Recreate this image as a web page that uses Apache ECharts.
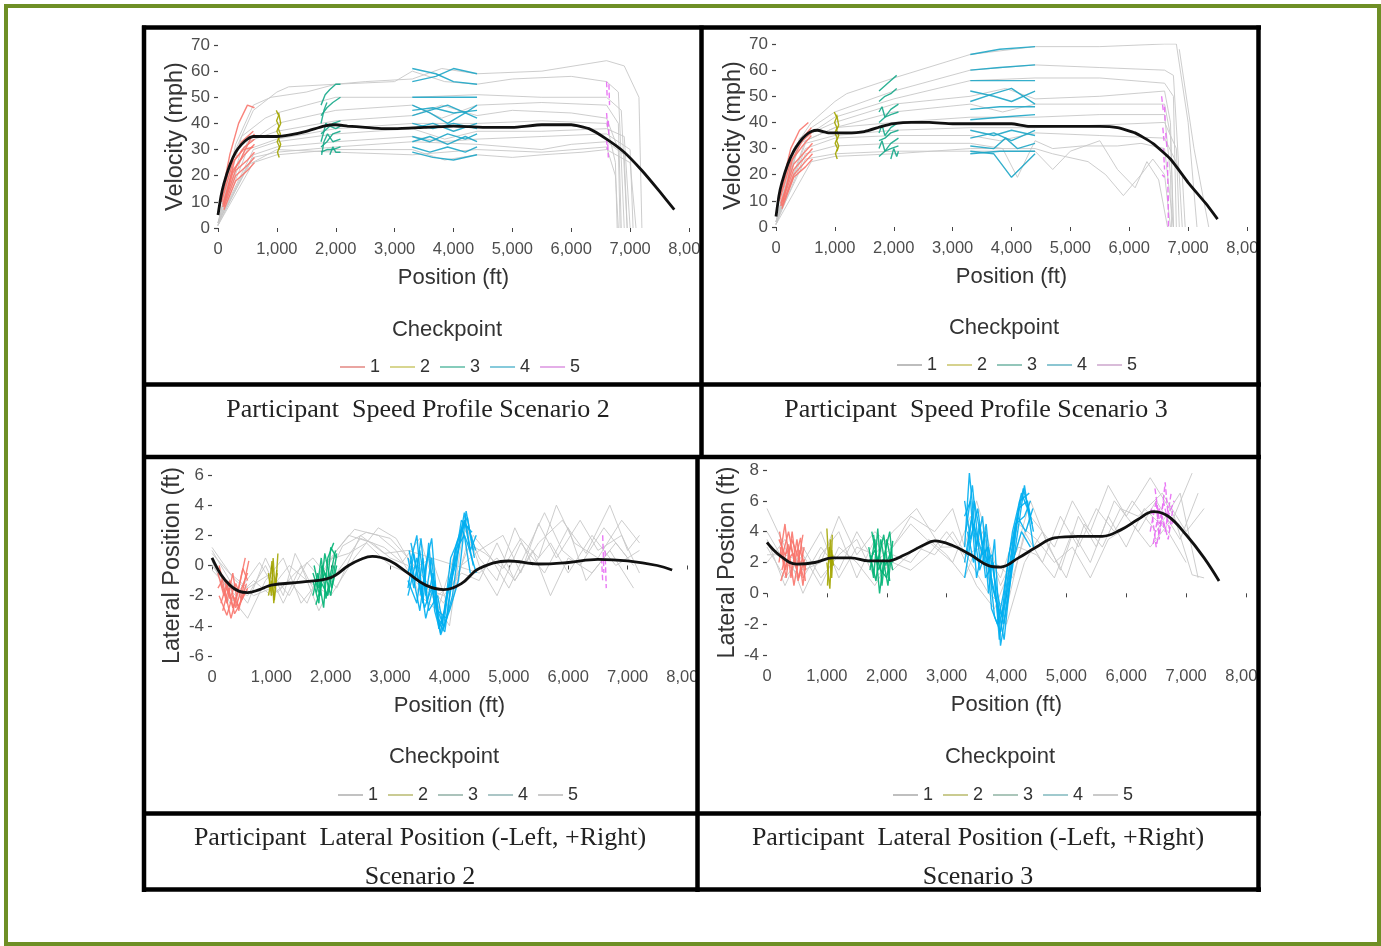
<!DOCTYPE html>
<html>
<head>
<meta charset="utf-8">
<script src="https://cdn.jsdelivr.net/npm/echarts@6/dist/echarts.min.js"></script>
<style>
html,body{margin:0;padding:0;background:#fff;}
#chart{width:1381px;height:946px;}
</style>
</head>
<body>
<div id="chart"></div>
<script>
// ---------------- DATA ----------------
const checkpointNames = ['1','2','3','4','5'];
const speedCpColors = ['#F8766D','#A3A500','#16a889','#1ea6c6','#E76BF3'];
const lateralCpColors = ['#F8766D','#A3A500','#00B374','#00AEF0','#E76BF3'];

// Speed, Scenario 2
const speedS2Mean = [[0,5],[50,12],[100,17],[200,24],[300,29],[400,32],[500,34],[600,35],[700,35],[1000,35],[1200,35.5],[1500,37],[1800,39],[2000,39.5],[2200,39],[2500,38.5],[2800,38],[3000,38],[3500,38.5],[4000,39],[4500,38.5],[5000,38.5],[5500,39.5],[6000,39.5],[6300,38],[6600,34],[6900,29],[7200,22],[7500,14],[7750,7]];
const speedS2Grey = [
 [[0,2],[300,30],[600,45],[1000,52],[1200,54],[2000,55],[2500,56],[3300,57],[3800,61],[4400,59],[5500,60],[6600,64],[6900,62],[7150,50],[7200,0]],
 [[0,1],[300,32],[600,47],[900,50],[1500,52],[2000,55],[3000,56],[3300,60],[3850,56],[4400,55],[5000,57],[6000,58],[6600,56],[6800,52],[6900,0]],
 [[0,2],[400,35],[800,42],[1000,44],[1500,47],[2000,50],[3300,50],[4400,51],[5500,50],[6600,50],[6850,45],[6950,0]],
 [[0,1],[400,30],[800,37],[1000,40],[2000,45],[3300,47],[3800,42],[4400,47],[5500,48],[6600,47],[6800,40],[6850,0]],
 [[0,2],[500,33],[1000,37],[2000,41],[3300,43],[3800,47],[4400,43],[5000,45],[6000,44],[6600,42],[6800,30],[6830,0]],
 [[0,1],[500,30],[1000,34],[2000,38],[3300,40],[4400,40],[5500,41],[6600,40],[6750,25],[6780,0]],
 [[0,2],[600,30],[1000,33],[2000,36],[3300,38],[3850,34],[4400,37],[5500,37],[6600,38],[6900,35],[7000,0]],
 [[0,1],[600,28],[1000,31],[2000,33],[3300,35],[3800,33],[4400,34],[5500,35],[6600,36],[7000,30],[7050,0]],
 [[0,2],[600,27],[1000,29],[2000,31],[3300,33],[4400,32],[5500,30],[6000,32],[6600,33],[6900,28],[6950,0]],
 [[0,1],[600,25],[1000,28],[2000,30],[3300,30],[3850,26],[4400,28],[5000,27],[5500,28],[6200,29],[6600,30],[7000,25],[7100,0]],
 [[0,2],[500,24],[1000,30],[2000,29],[3300,28],[4400,30],[5500,29],[6600,31],[6750,20],[6800,0]]
];
const speedS2Cp1 = [
 [[60,12],[200,28],[350,40],[500,47],[620,46]],
 [[60,10],[200,24],[400,33],[600,37]],
 [[60,10],[250,25],[450,31],[620,34]],
 [[80,9],[250,22],[450,28],[620,32]],
 [[80,8],[300,22],[500,26],[620,29]],
 [[100,8],[300,20],[500,24],[620,27]],
 [[100,7],[300,18],[500,22],[620,25]],
 [[100,9],[250,21],[400,27],[550,34],[620,36]],
 [[120,11],[280,26],[430,30],[600,31]]
];
const speedS2Cp2 = [
 [[990,45],[1030,43],[995,41],[1035,39],[1000,37],[1040,35],[1005,33],[1045,31],[1010,29],[1040,27]],
 [[1030,44],[1065,40],[1025,38],[1060,36],[1030,34],[1065,32],[1035,30]]
];
const speedS2Cp3 = [
 [[1750,47],[1820,51],[1900,53],[2000,55],[2080,55]],
 [[1750,43],[1850,46],[1950,48],[2080,50]],
 [[1750,40],[1800,45],[1850,48]],
 [[1750,36],[1850,38],[1950,40],[2080,41]],
 [[1750,33],[1800,37],[1830,40],[1900,39],[2000,38],[2080,39]],
 [[1750,31],[1850,33],[1950,36],[2080,37]],
 [[1760,28],[1800,33],[1860,36],[1950,33],[2080,34]],
 [[1750,29],[1850,30],[1950,30],[2080,31]],
 [[1900,28],[1950,31],[2000,29],[2080,29]]
];
const speedS2Cp4 = [
 [[3300,61],[3700,59],[4000,56],[4400,55]],
 [[3300,56],[3700,58],[4000,61],[4400,59]],
 [[3300,50],[3800,50],[4400,50]],
 [[3300,47],[3600,44],[3900,40],[4200,44],[4400,47]],
 [[3300,43],[3600,45],[3900,47],[4200,44],[4400,42]],
 [[3300,40],[3650,38],[4000,40],[4400,38]],
 [[3300,38],[3650,40],[4000,37],[4400,40]],
 [[3300,35],[3600,33],[3900,36],[4200,34],[4400,36]],
 [[3300,33],[3600,35],[3900,32],[4200,35],[4400,33]],
 [[3300,31],[3600,29],[3900,31],[4200,29],[4400,31]],
 [[3300,29],[3650,27],[4000,26],[4400,28]],
 [[3300,45],[3650,46],[4000,44],[4400,45]]
];
const speedS2Cp5 = [
 [[6600,56],[6610,50]],[[6640,55],[6650,47]],[[6600,44],[6620,38]],
 [[6630,41],[6640,35]],[[6600,34],[6610,30]],[[6620,32],[6630,27]]
];

// Speed, Scenario 3
const speedS3Mean = [[0,4],[50,12],[100,17],[200,24],[300,29],[400,32.5],[500,35],[600,36.5],[700,37],[900,36],[1200,36],[1500,36.5],[1800,38.5],[2000,39.5],[2300,40],[2600,40],[3000,39.5],[3500,39.5],[4000,39.5],[4300,38.5],[5000,38.5],[5500,38.5],[5800,38],[6100,36],[6400,32],[6700,26],[7000,17],[7300,9],[7500,3]];
const speedS3Grey = [
 [[0,2],[300,30],[600,40],[1000,48],[1200,51],[2000,57],[3300,66],[4400,69],[5500,69],[6600,70],[6800,70],[7000,40],[7150,0]],
 [[0,2],[300,28],[600,38],[1000,44],[2000,52],[3300,60],[4400,62],[5500,61],[6600,60],[6750,58],[6900,0]],
 [[0,1],[400,33],[1000,42],[2000,49],[3300,56],[4400,57],[5500,57],[6600,55],[6750,50],[6800,0]],
 [[0,2],[400,34],[1000,40],[2000,47],[3300,50],[3900,53],[4400,49],[5500,50],[6600,52],[6700,40],[6750,0]],
 [[0,1],[400,32],[1000,38],[2000,44],[3300,47],[3850,44],[4400,47],[5500,47],[6600,47],[6700,35],[6750,0]],
 [[0,2],[500,33],[1000,38],[2000,40],[3300,42],[4400,42],[5500,43],[6600,43],[6700,20],[6720,0]],
 [[0,1],[500,32],[1000,35],[2000,37],[3300,38],[4400,38],[5500,39],[6600,40],[6800,30],[6850,0]],
 [[0,2],[500,30],[1000,34],[2000,35],[3300,35],[3800,33],[4400,36],[5500,35],[6600,34],[6900,20],[6950,0]],
 [[0,1],[500,28],[1000,31],[2000,32],[3300,32],[3850,30],[4100,19],[4400,33],[4700,30],[5200,31],[5800,31],[6200,32],[6600,30],[6750,0]],
 [[0,2],[500,26],[1000,28],[2000,29],[3300,29],[4400,29],[4700,22],[5000,29],[5500,33],[5800,22],[6100,15],[6300,25],[6500,18],[6650,0]],
 [[0,1],[600,25],[1000,27],[2000,28],[3300,30],[4400,30],[4700,28],[5300,25],[5600,20],[5900,12],[6200,20],[6400,26],[6600,20],[6700,0]],
 [[6850,68],[7100,30],[7350,0]]
];
const speedS3Cp1 = [
 [[60,12],[250,30],[400,37],[550,40]],
 [[60,11],[250,27],[450,34],[600,38]],
 [[60,10],[250,25],[450,31],[600,35]],
 [[80,9],[300,24],[500,29],[620,32]],
 [[80,8],[300,22],[500,27],[620,30]],
 [[100,8],[300,20],[500,25],[620,28]],
 [[100,7],[300,19],[500,23],[620,26]],
 [[120,10],[280,26],[450,33],[600,36]]
];
const speedS3Cp2 = [
 [[990,44],[1030,42],[995,40],[1035,38],[1000,36],[1040,34],[1005,32],[1045,30],[1010,28],[1040,26]],
 [[1030,43],[1065,39],[1030,37],[1065,35],[1030,33],[1065,31],[1035,29]]
];
const speedS3Cp3 = [
 [[1750,52],[1850,54],[1950,56],[2050,58]],
 [[1750,48],[1850,50],[1950,51],[2050,53]],
 [[1750,44],[1800,46],[1850,42],[1950,45],[2080,47]],
 [[1750,40],[1850,42],[1950,43],[2080,44]],
 [[1750,36],[1800,39],[1850,35],[1950,38],[2080,40]],
 [[1750,33],[1850,34],[1950,36],[2080,37]],
 [[1750,30],[1800,33],[1850,29],[1950,32],[2080,34]],
 [[1750,27],[1850,29],[1950,30],[2080,31]],
 [[1950,26],[2000,30],[2050,27],[2080,29]]
];
const speedS3Cp4 = [
 [[3300,66],[3800,68],[4400,69]],
 [[3300,60],[3800,61],[4400,62]],
 [[3300,56],[4400,56]],
 [[3300,52],[3700,50],[4000,48],[4400,52]],
 [[3300,48],[3700,51],[4000,53],[4400,47]],
 [[3300,45],[3800,46],[4400,46]],
 [[3300,41],[3800,42],[4400,43]],
 [[3300,37],[3700,35],[4000,37],[4400,35]],
 [[3300,34],[3700,36],[4000,33],[4400,37]],
 [[3300,31],[3700,30],[3900,34],[4100,30],[4400,32]],
 [[3300,29],[3700,28],[4000,19],[4400,28]],
 [[3300,28],[3800,29],[4400,29]]
];
const speedS3Cp5 = [
 [[6550,50],[6580,44]],[[6600,46],[6610,40]],[[6570,38],[6590,33]],[[6620,36],[6640,30]],
 [[6580,30],[6600,22]],[[6560,20],[6600,19]],[[6650,25],[6660,10]],[[6660,12],[6665,0]]
];

// Lateral position, Scenario 2
const latS2Mean = [[0,0.5],[150,-0.6],[300,-1.3],[450,-1.7],[600,-1.8],[800,-1.6],[1000,-1.3],[1500,-1.1],[2000,-0.8],[2300,0],[2500,0.4],[2700,0.6],[3000,0.3],[3300,-0.5],[3600,-1.3],[3900,-1.6],[4200,-1.2],[4500,-0.2],[5000,0.3],[5500,0.1],[6000,0.2],[6500,0.4],[7000,0.3],[7500,0],[7750,-0.3]];
const latS2Grey = [
 [[0,1],[300,-1],[600,-2.5],[900,0.5],[1200,-2],[1400,0.8],[1700,-1.5],[2000,0.5],[2300,2],[2700,1.5],[3000,0.5],[3300,0],[3500,-2],[3800,-3],[4100,1],[4300,2.5],[4500,0.5],[4800,-1],[5100,2.5],[5400,0],[5700,1.5],[6000,-0.5],[6400,2],[6800,0],[7200,1]],
 [[0,0.5],[300,-2],[600,-3.5],[900,-1],[1200,0.5],[1500,-2.5],[1800,-1],[2100,1],[2400,2.4],[2800,2],[3100,1],[3400,-1],[3700,-2],[4000,-4],[4250,3],[4500,0],[4800,-2],[5200,1.5],[5600,-0.5],[6000,2.5],[6300,-1],[6700,1],[7100,-1.5]],
 [[0,0],[300,-1.5],[600,-2],[900,0],[1200,-2.5],[1500,0],[1800,-3],[2100,-0.5],[2500,1.8],[2900,1.2],[3200,0.2],[3500,1.8],[3800,-2],[4100,-1],[4400,2],[4700,0.5],[5000,-1.5],[5300,1],[5600,3.5],[5900,1],[6200,0],[6600,2.5],[7000,0.5]],
 [[0,1.2],[300,-0.5],[600,-1.5],[1000,-0.5],[1300,-2],[1600,0.2],[1900,-1.2],[2200,1.3],[2600,2.2],[3000,1.8],[3300,0.5],[3600,-1],[3900,-2.5],[4200,0],[4500,1],[4900,2],[5200,-0.5],[5500,2.8],[5800,0.5],[6200,3],[6500,1],[6900,2],[7200,-0.5]],
 [[0,0.3],[300,-2.5],[700,-1],[1000,-2],[1300,-1],[1600,-2.5],[1900,0.3],[2300,0.8],[2600,1.5],[3000,0],[3300,-0.5],[3600,-1.5],[3900,-2],[4200,-0.5],[4500,-1],[4800,1.5],[5100,-1],[5400,1],[5700,-2],[6000,0.5],[6400,-0.5],[6800,1.5],[7100,0]],
 [[0,0.8],[400,-1],[700,-2],[1000,-1.5],[1300,0],[1600,-1],[2000,-2],[2400,0.5],[2800,2.5],[3100,1.8],[3400,-0.2],[3700,0.5],[4000,-3],[4300,1.5],[4600,0.8],[4900,-0.2],[5200,1.8],[5500,0.5],[5800,4],[6100,1.5],[6500,0.5],[6900,3],[7200,1.5]],
 [[0,-0.3],[400,-2],[800,0.2],[1100,-1.8],[1400,-0.5],[1700,0.5],[2100,-1.5],[2500,2],[2900,0.8],[3300,1],[4500,-0.5],[4800,0.5],[5100,-1],[5500,1.5],[5900,3],[6300,0.8],[6700,4],[7000,1],[7200,2]]
];
const latS2Cp1 = [
 [[100,-0.5],[200,-2],[300,-1],[400,-2.8],[500,-1.5],[600,-0.5]],
 [[150,-1],[250,-2.5],[350,-0.5],[450,-3],[550,-1],[620,0.3]],
 [[120,-2],[250,-3.3],[350,-2],[450,-2.7],[550,-1.8]],
 [[100,-1.5],[200,-0.8],[300,-2.2],[400,-1.2],[500,-2.3],[600,-1.5]],
 [[150,-2.5],[250,-1.2],[350,-2.8],[450,-1.5],[560,0.5]],
 [[120,0],[220,-1.8],[320,-3.5],[420,-2],[520,-0.2],[600,-1]],
 [[180,-3],[280,-1.5],[380,-3.2],[480,-2.5],[580,-1.2]]
];
const latS2Cp2 = [
 [[950,-0.5],[1000,-2],[1030,0.5],[1060,-1.5],[1100,-0.5]],
 [[960,-1.5],[1010,0.3],[1040,-2.5],[1080,-1],[1110,0.8]],
 [[950,-2],[1000,-1],[1050,-2.3],[1090,-0.3]]
];
const latS2Cp3 = [
 [[1700,-1],[1800,-2.5],[1850,0],[1950,-1],[2000,1.2],[2100,0.5]],
 [[1700,-2],[1780,-0.5],[1880,-2.8],[1950,0.5],[2050,1.5]],
 [[1720,0],[1800,-1.5],[1900,-0.5],[2000,-2],[2100,0.8]],
 [[1750,-2.6],[1850,-1.2],[1950,-2],[2050,0]],
 [[1760,-1.8],[1840,0.5],[1920,-2.2],[2000,-0.5],[2080,1]],
 [[1700,-0.5],[1820,-2],[1900,0.8],[2020,-1.5],[2100,0]]
];
const latS2Cp4 = [
 [[3300,-0.5],[3450,2],[3550,-2.5],[3650,1.5],[3750,-3],[3850,-4.5],[3950,-2],[4100,0],[4250,3.5],[4350,1],[4450,2]],
 [[3300,0.5],[3400,-1.5],[3500,1],[3600,-2],[3700,0.5],[3800,-3.5],[3900,-4],[4000,-1],[4150,1],[4250,3],[4400,0]],
 [[3300,-1],[3450,-2.5],[3550,0.5],[3650,-3],[3800,-2],[3900,-4.2],[4050,-2],[4200,2.5],[4300,1.5],[4450,-0.5]],
 [[3350,0],[3500,-3],[3600,0],[3700,1.8],[3800,-3],[3950,-3.5],[4100,1],[4250,2],[4350,-0.5]],
 [[3300,-2],[3450,0.5],[3600,-3.5],[3750,-1],[3850,-4.6],[4000,-3],[4150,-1],[4280,3.6],[4400,1]],
 [[3320,1],[3420,-1],[3520,1.8],[3620,-2.5],[3720,-0.5],[3820,-4.2],[3920,-3],[4020,0.5],[4180,2],[4300,3.2],[4420,0.5]],
 [[3300,-1.5],[3400,0.8],[3520,-2],[3640,0.8],[3760,-2.5],[3880,-3.8],[3980,-1.5],[4120,1.5],[4230,2.8],[4380,2.2]],
 [[3350,1.5],[3480,-1],[3580,-2.8],[3700,-1.5],[3820,-3.8],[3920,-4.4],[4060,-0.5],[4200,3],[4320,2.5],[4440,1]]
];
const latS2Cp5 = [
 [[6580,2],[6600,-0.5]],[[6620,1],[6640,-1.5]],[[6560,0.5],[6580,-1]]
];

// Lateral position, Scenario 3
const latS3Mean = [[0,3.3],[200,2.5],[500,1.9],[800,2.0],[1100,2.3],[1400,2.3],[1700,2.1],[2000,2.1],[2300,2.5],[2600,3.1],[2800,3.4],[3100,3.1],[3400,2.5],[3700,1.8],[3900,1.7],[4200,2.3],[4500,3.0],[4800,3.6],[5200,3.7],[5600,3.7],[5900,4.1],[6200,4.8],[6450,5.3],[6700,5.0],[7000,3.8],[7300,2.3],[7550,0.8]];
const latS3Grey = [
 [[0,4],[300,2],[600,1],[900,3],[1200,1.5],[1500,4],[1800,2],[2100,3],[2400,5],[2800,4],[3100,5.5],[3300,3],[3500,6],[3800,2],[4100,1],[4400,5],[4800,3],[5100,6],[5400,4],[5700,7],[6000,5],[6400,7.5],[6800,5],[7100,7.8]],
 [[0,5.5],[300,3],[600,0],[900,2.5],[1200,4],[1500,1],[1800,3.5],[2100,1.5],[2500,3],[2800,2.5],[3100,4],[3400,2],[3700,0],[4000,-1],[4300,4],[4600,2],[4900,5],[5200,3],[5500,5.5],[5800,4],[6100,6],[6500,4],[6900,6.5],[7200,1]],
 [[0,3],[300,1],[600,2.5],[900,0.5],[1200,3],[1500,2],[1800,0.5],[2100,2.5],[2400,2],[2700,3.5],[3000,2.5],[3300,1],[3600,4],[3900,0.5],[4200,3],[4500,2.5],[4800,1],[5100,4],[5400,2],[5700,5],[6000,3],[6300,5.5],[6700,4],[7000,2]],
 [[0,2],[300,3.5],[600,1.5],[900,2],[1200,5],[1500,2.5],[1800,4],[2100,3],[2400,4.5],[2800,3],[3100,2],[3400,5],[3700,1],[4000,-2],[4300,2],[4600,4],[4900,1.5],[5200,5],[5500,3],[5800,6],[6200,4],[6500,6],[6900,3.5],[7200,6.5]],
 [[0,3.5],[300,0.5],[600,3],[900,1],[1200,2.5],[1500,3.5],[1800,1],[2100,2],[2400,1.5],[2700,2.5],[3000,4],[3300,2.5],[3600,3],[3900,1],[4200,4.5],[4500,3.5],[4800,2],[5100,3],[5400,1],[5700,3.5],[6100,4.5],[6400,3],[6800,5],[7100,1.2],[7300,1]],
 [[0,2.5],[300,2.5],[600,2],[900,4],[1200,1],[1500,3],[1800,2.5],[2100,4],[2500,5.5],[2900,3],[3200,3],[3500,0.5],[3800,-1],[4100,2],[4400,6],[4700,3],[5000,1],[5300,4.5],[5600,3],[5900,5.5],[6200,5],[6600,6.5],[7000,4],[7300,5.5]]
];
const latS3Cp1 = [
 [[200,2],[300,4.5],[400,1],[500,3.5],[600,0.5],[650,2]],
 [[220,3],[320,1],[420,4],[520,0.8],[620,3]],
 [[250,1.5],[350,3.2],[450,0.5],[550,2.8],[650,1.5]],
 [[200,3.5],[300,2.5],[400,3],[500,1.5],[600,3.8]],
 [[230,0.8],[330,2],[430,2.6],[530,1],[630,2.2]],
 [[210,4],[310,1.5],[410,3.5],[510,2.5],[610,1]],
 [[260,2.5],[360,4],[460,2],[560,3.6],[640,0.8]]
];
const latS3Cp2 = [
 [[1000,4.2],[1030,2],[1060,3.5],[1080,1],[1100,2.5]],
 [[1010,0.5],[1040,3],[1070,1.5],[1090,3.8]],
 [[1000,2],[1050,0.3],[1080,2.8],[1110,1.8]]
];
const latS3Cp3 = [
 [[1700,3],[1780,1],[1850,4.2],[1920,0.5],[2000,3.5],[2100,1.5]],
 [[1720,1.5],[1800,3.5],[1880,0],[1960,2.5],[2050,4],[2100,2]],
 [[1700,2],[1800,2.8],[1900,1.5],[2000,1],[2080,3]],
 [[1750,4],[1850,2],[1950,3.8],[2050,0.8]],
 [[1720,2.5],[1820,0.8],[1900,3.5],[1980,1.8],[2060,2.6]],
 [[1780,3.8],[1860,1.5],[1940,2.2],[2020,0.5],[2100,3.4]]
];
const latS3Cp4 = [
 [[3300,3],[3380,7.8],[3500,3],[3600,5],[3700,0],[3800,3.5],[3900,-3.4],[4000,-1],[4150,3],[4300,7],[4450,3]],
 [[3300,5],[3400,6],[3500,1],[3650,4],[3750,-1],[3850,-2],[3950,0],[4100,4],[4250,6.5],[4400,5]],
 [[3300,2],[3420,5],[3550,1.5],[3680,3],[3800,-1.5],[3900,-2.5],[4050,1],[4200,5.5],[4350,6],[4450,4]],
 [[3350,4],[3450,2],[3550,4.5],[3650,1],[3780,2],[3880,-3],[4000,0.5],[4150,4.5],[4300,5],[4400,6]],
 [[3300,1],[3450,4.5],[3600,2.5],[3700,3],[3850,0],[3950,-2],[4100,2],[4250,4],[4400,3]],
 [[3320,4],[3430,7],[3560,2],[3660,4.5],[3760,0.5],[3860,-1],[3960,-3],[4080,1.5],[4220,6],[4380,6.5]],
 [[3300,6],[3400,3.5],[3520,5.5],[3640,2],[3760,2.5],[3870,-2],[3980,-0.5],[4120,3.5],[4280,6.8],[4430,4.5]],
 [[3340,2.5],[3460,6],[3580,3.5],[3720,1.5],[3830,-0.5],[3920,-1.5],[4040,2.5],[4180,5],[4320,4],[4440,5.5]]
];
const latS3Cp5 = [
 [[6400,4],[6500,6],[6550,3.5],[6650,7.2],[6700,5],[6800,6]],
 [[6420,5.5],[6500,3],[6600,5],[6700,3.5],[6780,5.5]],
 [[6450,3.2],[6550,5.5],[6650,4],[6750,6.5]],
 [[6480,6.8],[6560,4.5],[6620,6],[6720,4.2],[6800,4.8]]
];

const captions = [
 ['Participant  Speed Profile Scenario 2'],
 ['Participant  Speed Profile Scenario 3'],
 ['Participant  Lateral Position (-Left, +Right)', 'Scenario 2'],
 ['Participant  Lateral Position (-Left, +Right)', 'Scenario 3']
];
const yTitles = ['Velocity (mph)', 'Velocity (mph)', 'Lateral Position (ft)', 'Lateral Postion (ft)'];
const yRanges = [[0,70,10],[0,70,10],[-6,6,2],[-4,8,2]];
const legendColorsTL = ['#eaa5a1','#d8d690','#86ccbb','#86cadb','#e4aee8'];
const legendColorsTR = ['#bdbdbd','#d6d28e','#93c6ba','#8cc6d2','#d9bcd9'];
const legendColorsBL = ['#c2c2c2','#cacb94','#abc3bb','#abc6c6','#cacaca'];
const legendColorsBR = ['#bfbfbf','#cacb90','#abc6ba','#a0cace','#cacaca'];

// ---------------- LAYOUT ----------------
const panels = [
 {grid:{left:218, top:45, width:471, height:183}, yName:28, cp:[447,330], leg:[335,353], legC:legendColorsTL, cols:speedCpColors, smooth:0.15,
  mean:speedS2Mean, grey:speedS2Grey, cps:[speedS2Cp1,speedS2Cp2,speedS2Cp3,speedS2Cp4,speedS2Cp5], cap:[418,410]},
 {grid:{left:776, top:44, width:471, height:183}, yName:28, cp:[1004,328], leg:[892,351], legC:legendColorsTR, cols:speedCpColors, smooth:0.15,
  mean:speedS3Mean, grey:speedS3Grey, cps:[speedS3Cp1,speedS3Cp2,speedS3Cp3,speedS3Cp4,speedS3Cp5], cap:[976,410]},
 {grid:{left:212, top:475, width:475, height:181}, yName:24, cp:[444,757], leg:[333,781], legC:legendColorsBL, cols:lateralCpColors, smooth:0.4,
  mean:latS2Mean, grey:latS2Grey, cps:[latS2Cp1,latS2Cp2,latS2Cp3,latS2Cp4,latS2Cp5], cap:[420,838]},
 {grid:{left:767, top:470, width:479, height:185}, yName:24, cp:[1000,757], leg:[888,781], legC:legendColorsBR, cols:lateralCpColors, smooth:0.4,
  mean:latS3Mean, grey:latS3Grey, cps:[latS3Cp1,latS3Cp2,latS3Cp3,latS3Cp4,latS3Cp5], cap:[978,838]}
];

const FONT = 'Liberation Sans';
const grids=[], xAxes=[], yAxes=[], series=[], legends=[], graphics=[];

function line(name, data, gi, color, width, z, opacity, dashed, smooth){
  return {type:'line', name, data, xAxisIndex:gi, yAxisIndex:gi, symbol:'none', showSymbol:false,
    silent:true, animation:false, clip:true, z, smooth: smooth || false,
    lineStyle:{color, width, opacity, type: dashed ? 'dashed' : 'solid'}};
}

panels.forEach((p, gi) => {
  grids.push(p.grid);
  xAxes.push({type:'value', gridIndex:gi, min:0, max:8000, interval:1000, offset:5,
    name:'Position (ft)', nameLocation:'middle', nameGap:34,
    nameTextStyle:{fontSize:22, color:'#333', fontFamily:FONT},
    axisLine:{show:false}, splitLine:{show:false},
    axisTick:{show:true, length:4, lineStyle:{color:'#444'}},
    axisLabel:{fontSize:16.5, color:'#4d4d4d', margin:8, fontFamily:FONT, showMaxLabel:true, showMinLabel:true,
      formatter: v => v.toLocaleString('en-US')}});
  const yr = yRanges[gi];
  yAxes.push({type:'value', gridIndex:gi, min:yr[0], max:yr[1], interval:yr[2], offset:2,
    name:yTitles[gi], nameLocation:'middle', nameGap:p.yName, nameRotate:90,
    nameTextStyle:{fontSize:23.5, color:'#333', fontFamily:FONT},
    axisLine:{show:false}, splitLine:{show:false},
    axisTick:{show:true, length:4, lineStyle:{color:'#444', width:1.2}},
    axisLabel:{fontSize:17, color:'#4d4d4d', margin:6, fontFamily:FONT, showMaxLabel:true, showMinLabel:true}});
  p.grey.forEach(g => series.push(line('participant', g, gi, '#c8c8c8', 1, 2, 0.9, false)));
  p.cps.forEach((cpArr, ci) => {
    cpArr.forEach(seg => series.push(line(checkpointNames[ci], seg, gi, p.cols[ci], 1.4, 3, 0.9, ci === 4)));
  });
  series.push(line('mean', p.mean, gi, '#111', 2.8, 5, 1, false, p.smooth));
  legends.push({left:p.leg[0], top:p.leg[1], orient:'horizontal', selectedMode:false,
    itemWidth:25, itemHeight:2, itemGap:10, icon:'rect',
    textStyle:{fontSize:18, color:'#333', fontFamily:FONT},
    data: checkpointNames.map((n, i) => ({name:n, itemStyle:{color:p.legC[i]}}))});
  graphics.push({type:'text', x:p.cp[0], y:p.cp[1], z:50,
    style:{text:'Checkpoint', fontSize:22, fontFamily:FONT, fill:'#333', align:'center', verticalAlign:'middle'}});
  const cap = captions[gi];
  cap.forEach((t, li) => graphics.push({type:'text', x:p.cap[0], y:p.cap[1] + li*39, z:50,
    style:{text:t, fontSize:26, fontFamily:'Liberation Serif', fill:'#222', align:'center', verticalAlign:'middle'}}));
});

// white masks to clip the overflowing end labels at panel borders
[[700,236,18,28],[1258,236,20,28],[697,664,18,28],[1258,664,20,28]].forEach(r =>
  graphics.push({type:'rect', z:90, shape:{x:r[0], y:r[1], width:r[2], height:r[3]}, style:{fill:'#fff'}}));

// black table borders
const bw = 4.5;
const hLines = [[142,1261,27.5],[142,1261,384.5],[142,1261,457],[142,1261,813.5],[142,1261,889.5]];
const vLines = [[144,25.5,892],[1258.5,25.5,892],[701.5,25.5,459],[697.5,455,892]];
hLines.forEach(l => graphics.push({type:'line', z:100, shape:{x1:l[0], y1:l[2], x2:l[1], y2:l[2]}, style:{stroke:'#000', lineWidth:bw}}));
vLines.forEach(l => graphics.push({type:'line', z:100, shape:{x1:l[0], y1:l[1], x2:l[0], y2:l[2]}, style:{stroke:'#000', lineWidth:bw}}));
// green outer frame
graphics.push({type:'rect', z:100, shape:{x:6, y:6, width:1373, height:938}, style:{fill:'none', stroke:'#6e8f25', lineWidth:4}});

const chart = echarts.init(document.getElementById('chart'), null, {renderer:'canvas'});
chart.setOption({
  animation:false,
  backgroundColor:'#fff',
  textStyle:{fontFamily:FONT},
  grid:grids, xAxis:xAxes, yAxis:yAxes, series, legend:legends,
  graphic:{elements:graphics}
});
</script>
</body>
</html>
